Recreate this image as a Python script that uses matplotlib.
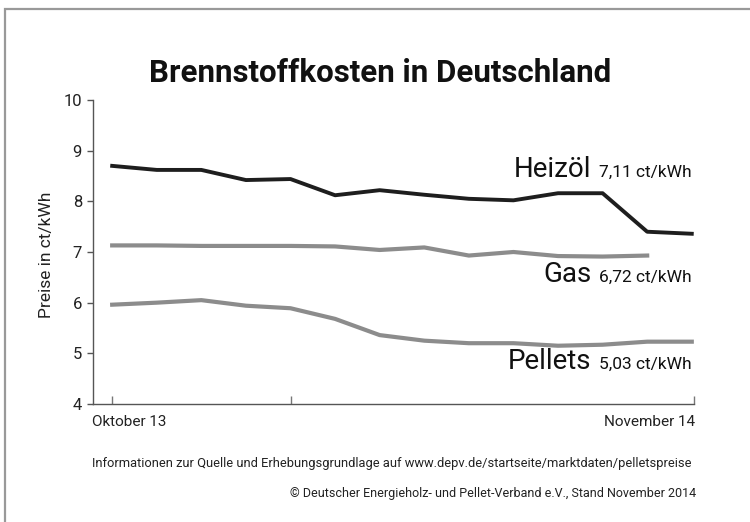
import matplotlib
matplotlib.use("Agg")
import matplotlib.pyplot as plt
from matplotlib.patches import Rectangle
from matplotlib import font_manager

months = ["Okt 13", "Nov 13", "Dez 13", "Jan 14", "Feb 14", "Mär 14", "Apr 14",
          "Mai 14", "Jun 14", "Jul 14", "Aug 14", "Sep 14", "Okt 14", "Nov 14"]
heizoel = [8.70, 8.62, 8.62, 8.42, 8.44, 8.12, 8.22, 8.13, 8.05, 8.02, 8.16, 8.16, 7.40, 7.36]
gas = [7.13, 7.13, 7.12, 7.12, 7.12, 7.11, 7.04, 7.09, 6.93, 7.00, 6.92, 6.91, 6.93]
pellets = [5.96, 6.00, 6.05, 5.94, 5.89, 5.68, 5.36, 5.25, 5.20, 5.20, 5.15, 5.17, 5.23, 5.23]

series_names = ["Heizöl", "Gas", "Pellets"]
series_values = ["7,11 ct/kWh", "6,72 ct/kWh", "5,03 ct/kWh"]
yticks = [4, 5, 6, 7, 8, 9, 10]
x_labels = ["Oktober 13", "November 14"]
title = "Brennstoffkosten in Deutschland"
ylabel = "Preise in ct/kWh"
note1 = "Informationen zur Quelle und Erhebungsgrundlage auf www.depv.de/startseite/marktdaten/pelletspreise"
note2 = "© Deutscher Energieholz- und Pellet-Verband e.V., Stand November 2014"

avail = {f.name for f in font_manager.fontManager.ttflist}
FAM = ["Liberation Sans Narrow", "DejaVu Sans"] if "Liberation Sans Narrow" in avail else ["Roboto", "DejaVu Sans"]

W, H = 750, 522
fig = plt.figure(figsize=(W / 100, H / 100), dpi=100)
fig.patch.set_facecolor("white")

def fx(px):
    return px / W

def fy(py):
    return 1 - py / H

# frame border (left and top visible)
fig.patches.append(Rectangle((fx(5), -0.1), 1.2, fy(9) + 0.1, transform=fig.transFigure,
                             fill=False, edgecolor="#999999", linewidth=1.6))

ax = fig.add_axes([fx(93), fy(404), fx(694) - fx(93), fy(100) - fy(404)])
ax.set_facecolor("none")
x = list(range(len(months)))
ax.plot(x, heizoel, color="#1e1e1e", lw=2.8, solid_joinstyle="round")
ax.plot(x[:len(gas)], gas, color="#8c8c8c", lw=3.0, solid_joinstyle="round")
ax.plot(x, pellets, color="#8c8c8c", lw=3.0, solid_joinstyle="round")

ax.set_xlim(-0.43, 13.05)
ax.set_ylim(4, 10)
for s in ["top", "right"]:
    ax.spines[s].set_visible(False)
for s in ["left", "bottom"]:
    ax.spines[s].set_color("#555555")
    ax.spines[s].set_linewidth(1.0)
ax.set_yticks(yticks)
ax.set_yticklabels([str(t) for t in yticks], family=FAM, fontsize=12, color="#222222")
ax.tick_params(axis="y", direction="out", length=4, width=1, color="#555555", pad=4)
ax.set_xticks([0, 4, 13.05])
ax.set_xticklabels([])
ax.tick_params(axis="x", direction="in", length=6, width=1, color="#777777")

fig.text(fx(380), fy(82), title, family=FAM, fontsize=22.5, fontweight="bold",
         ha="center", va="baseline", color="#111111")
fig.text(fx(46), fy(255), ylabel, family=FAM, fontsize=12.5, rotation=90,
         ha="center", va="center", color="#222222")
fig.text(fx(92), fy(426), x_labels[0], family=FAM, fontsize=11, ha="left", va="baseline", color="#222222")
fig.text(fx(695), fy(426), x_labels[1], family=FAM, fontsize=11, ha="right", va="baseline", color="#222222")
fig.text(fx(392), fy(467), note1, family=FAM, fontsize=9.3, ha="center", va="baseline", color="#222222")
fig.text(fx(696), fy(497), note2, family=FAM, fontsize=9, ha="right", va="baseline", color="#222222")

baselines = [177, 282, 369]
fig.canvas.draw()
renderer = fig.canvas.get_renderer()
for name, val, by in zip(series_names, series_values, baselines):
    t = fig.text(fx(692), fy(by), val, family=FAM, fontsize=12.5, ha="right", va="baseline", color="#111111")
    bb = t.get_window_extent(renderer)
    fig.text(fx(bb.x0 - 8), fy(by), name, family=FAM, fontsize=20, ha="right", va="baseline", color="#111111")

fig.savefig("out.png", dpi=100)
